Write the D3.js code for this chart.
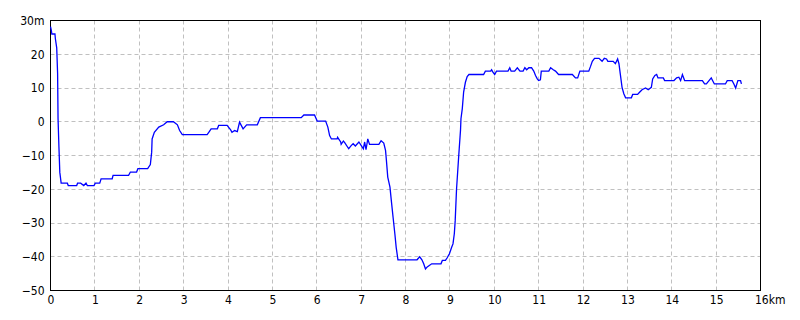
<!DOCTYPE html>
<html>
<head>
<meta charset="utf-8">
<script src="https://cdn.jsdelivr.net/npm/d3@7"></script>
<style>
  body { margin: 0; background: #fff; }
  .tick text { font-family: "Liberation Sans Narrow", "DejaVu Sans Condensed", sans-serif; font-size: 12px; fill: #000; }
</style>
</head>
<body>
<svg id="chart"></svg>
<script>
// distance along the route (km) and elevation (m)
const distKm = [
  0, 0.02, 0.03, 0.10, 0.11, 0.14, 0.16, 0.17, 0.19, 0.21, 0.24, 0.38, 0.40, 0.59, 0.61, 0.68,
  0.75, 0.80, 0.83, 0.98, 1.01, 1.11, 1.14, 1.39, 1.41, 1.76, 1.80, 1.94, 1.97, 2.19, 2.25, 2.28,
  2.29, 2.34, 2.44, 2.55, 2.63, 2.77, 2.86, 2.91, 2.97, 3.53, 3.57, 3.62, 3.76, 3.79, 3.98, 4.06,
  4.09, 4.15, 4.21, 4.26, 4.34, 4.42, 4.66, 4.73, 5.65, 5.71, 5.95, 6.01, 6.20, 6.25, 6.29, 6.33,
  6.46, 6.47, 6.54, 6.55, 6.60, 6.63, 6.72, 6.78, 6.82, 6.87, 6.95, 7.00, 7.05, 7.08, 7.11, 7.15,
  7.19, 7.40, 7.45, 7.51, 7.55, 7.57, 7.60, 7.65, 7.68, 7.72, 7.76, 7.79, 7.83, 8.26, 8.32, 8.37,
  8.41, 8.45, 8.49, 8.59, 8.80, 8.83, 8.90, 8.94, 8.99, 9.04, 9.07, 9.10, 9.12, 9.15, 9.20, 9.24,
  9.25, 9.28, 9.31, 9.35, 9.39, 9.43, 9.76, 9.80, 9.92, 9.94, 9.97, 10.01, 10.05, 10.31, 10.35, 10.38,
  10.46, 10.52, 10.58, 10.65, 10.69, 10.73, 10.78, 10.84, 10.89, 10.93, 10.97, 11.00, 11.04, 11.06, 11.23, 11.27,
  11.33, 11.38, 11.45, 11.76, 11.83, 11.88, 11.93, 12.13, 12.17, 12.21, 12.26, 12.36, 12.43, 12.48, 12.53, 12.56,
  12.68, 12.73, 12.78, 12.81, 12.84, 12.88, 12.92, 12.96, 13.09, 13.12, 13.23, 13.28, 13.33, 13.41, 13.47, 13.54,
  13.57, 13.62, 13.66, 13.69, 13.81, 13.84, 14.05, 14.11, 14.16, 14.20, 14.24, 14.29, 14.69, 14.74, 14.78, 14.84,
  14.89, 14.96, 15.21, 15.25, 15.36, 15.40, 15.44, 15.49, 15.55, 15.57
];
const elevM = [
  28.2, 27, 26, 26, 24.6, 21.9, 14.4, 1.0, -7.5, -15, -18.2, -18.2, -18.9, -18.9, -18.2, -18.2,
  -18.9, -18.2, -18.9, -18.9, -18.2, -18.2, -16.9, -16.9, -15.9, -15.9, -14.9, -14.9, -13.9, -13.9, -12.7, -9,
  -5.1, -3.1, -1.6, -0.9, 0, 0, -0.9, -2.6, -3.8, -3.8, -3.1, -2.1, -2.1, -1.1, -1.1, -2.4,
  -3.1, -2.6, -2.9, -0.1, -2.1, -0.9, -0.9, 1.2, 1.2, 2.0, 2.0, 0.2, 0.2, -1.6, -4.1, -5.1,
  -5.1, -4.6, -6, -6.7, -5.7, -6.2, -8, -7.0, -6.5, -7.2, -6, -7, -8, -6, -8.3, -5.1,
  -6.7, -6.7, -5.6, -6.3, -8.5, -11.5, -16.4, -19.4, -23.3, -28.3, -33.2, -37.2, -40.9, -40.9, -40, -40.9,
  -42.1, -43.6, -43, -42.1, -42.1, -41.1, -41.1, -40.3, -39.1, -37.2, -36.2, -33.2, -29.3, -20, -10, -2.4,
  0.9, 3.9, 8.8, 11.7, 13.4, 14, 14, 15, 15, 15.4, 14.7, 14, 15, 15, 16, 15,
  15, 16, 15, 15, 16, 15.4, 16, 16, 15, 13.7, 12.7, 12.2, 12.4, 15, 15, 16,
  15.4, 15, 14, 14, 13, 13, 15, 15, 16.4, 17.9, 18.8, 18.8, 17.9, 18.8, 18.6, 17.9,
  17.9, 17.2, 18.6, 17.2, 14.2, 10.2, 8.3, 7.1, 7.1, 8.1, 8.1, 8.8, 9.5, 10, 9.5, 10.2,
  12.7, 13.7, 14, 13, 13, 12.2, 12.2, 13, 13.2, 12.2, 14, 12.2, 12.2, 11.2, 11.2, 12.2,
  13, 11.2, 11.2, 12.2, 12.2, 11.2, 10, 12.2, 12.2, 11.2
];
const xTicks = d3.range(0, 17);
const yTicks = [-50, -40, -30, -20, -10, 0, 10, 20, 30];

const width = 800, height = 320;
const margin = { top: 20, right: 40, bottom: 30, left: 50 };

const svg = d3.select('#chart')
  .attr('width', width)
  .attr('height', height);

const x = d3.scaleLinear()
  .domain([0, 16])
  .range([margin.left + 0.5, width - margin.right + 0.5]);

const y = d3.scaleLinear()
  .domain([-50, 30])
  .range([height - margin.bottom + 0.5, margin.top + 0.5]);

// dashed grid
svg.append('g')
  .selectAll('line')
  .data(xTicks.slice(1, -1))
  .join('line')
  .attr('x1', d => Math.round(x(d) - 0.5) + 0.5)
  .attr('x2', d => Math.round(x(d) - 0.5) + 0.5)
  .attr('y1', y(30))
  .attr('y2', y(-50))
  .attr('stroke', '#c0c0c0')
  .attr('stroke-dasharray', '4,3');

svg.append('g')
  .selectAll('line')
  .data(yTicks.slice(1, -1))
  .join('line')
  .attr('x1', x(0))
  .attr('x2', x(16))
  .attr('y1', d => Math.round(y(d) - 0.5) + 0.5)
  .attr('y2', d => Math.round(y(d) - 0.5) + 0.5)
  .attr('stroke', '#c0c0c0')
  .attr('stroke-dasharray', '4,3');

// axes labels
svg.append('g')
  .attr('transform', `translate(0,${y(-50)})`)
  .call(d3.axisBottom(x).tickValues(xTicks).tickSize(0).tickPadding(5)
    .tickFormat(d => d === 16 ? '16km' : d))
  .call(g => g.select('.domain').remove())
  .call(g => g.selectAll('.tick text')
    .filter(d => d === 16)
    .attr('text-anchor', 'start')
    .attr('dx', -6));

svg.append('g')
  .attr('transform', `translate(${x(0)},0)`)
  .call(d3.axisLeft(y).tickValues(yTicks).tickSize(0).tickPadding(6)
    .tickFormat(d => d === 30 ? '30m' : (d < 0 ? '\u2212' + Math.abs(d) : d)))
  .call(g => g.select('.domain').remove());

// frame
svg.append('rect')
  .attr('x', x(0))
  .attr('y', y(30))
  .attr('width', x(16) - x(0))
  .attr('height', y(-50) - y(30))
  .attr('fill', 'none')
  .attr('stroke', '#000');

// profile line
const points = distKm.map((d, i) => [d, elevM[i]]);

const line = d3.line()
  .x(d => x(d[0]))
  .y(d => y(d[1]));

svg.append('path')
  .datum(points)
  .attr('fill', 'none')
  .attr('stroke', '#0000ff')
  .attr('stroke-width', 1.3)
  .attr('d', line);
</script>
</body>
</html>
